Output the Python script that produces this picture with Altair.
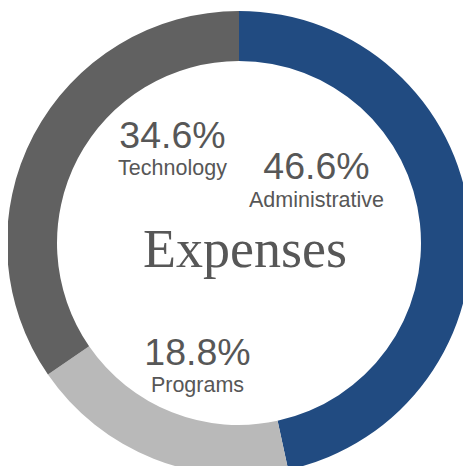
import altair as alt
import pandas as pd

# ---- data ----
categories = ["Administrative", "Programs", "Technology"]
shares = [46.6, 18.8, 34.6]
slice_colors = ["#214b81", "#b9b9b9", "#616161"]
center_title = "Expenses"

df = pd.DataFrame({
    "category": categories,
    "share": shares,
    "idx": list(range(len(categories))),
})

# ---- layout (plot-area pixels) ----
CX, CY = 231, 235
R_OUT, R_IN = 232, 182
TEXT_COLOR = "#575757"
label_pos = {
    "Technology": (164.5, 140, 167),
    "Administrative": (308.5, 171, 198.5),
    "Programs": (189.5, 357, 384),
}

base = alt.Chart(df)

ring = base.mark_arc(radius=R_OUT, radius2=R_IN, stroke=None).encode(
    theta=alt.Theta("share:Q", stack=True),
    order=alt.Order("idx:Q"),
    color=alt.Color(
        "category:N",
        scale=alt.Scale(domain=categories, range=slice_colors),
        legend=None,
    ),
    x=alt.value(CX),
    y=alt.value(CY),
)

layers = [ring]
for cat, (lx, ly_pct, ly_name) in label_pos.items():
    sub = base.transform_filter(alt.datum.category == cat).transform_calculate(
        pct="format(datum.share, '.1f') + '%'"
    )
    pct = sub.mark_text(
        font="Liberation Sans", fontSize=37.5, color=TEXT_COLOR,
        align="center", baseline="alphabetic",
    ).encode(text="pct:N", x=alt.value(lx), y=alt.value(ly_pct))
    name = sub.mark_text(
        font="Liberation Sans", fontSize=21.5, color=TEXT_COLOR,
        align="center", baseline="alphabetic",
    ).encode(text="category:N", x=alt.value(lx), y=alt.value(ly_name))
    layers += [pct, name]

title_df = pd.DataFrame({"t": [center_title]})
title = alt.Chart(title_df).mark_text(
    font="Liberation Serif", fontSize=54, color=TEXT_COLOR,
    align="center", baseline="alphabetic",
).encode(text="t:N", x=alt.value(237), y=alt.value(259))
layers.append(title)

chart = alt.layer(*layers).properties(
    width=455, height=458,
    autosize=alt.AutoSizeParams(type="none"),
    padding=0,
).configure_view(stroke=None)

chart.save("out.html", embed_options={"renderer": "svg", "actions": False})
